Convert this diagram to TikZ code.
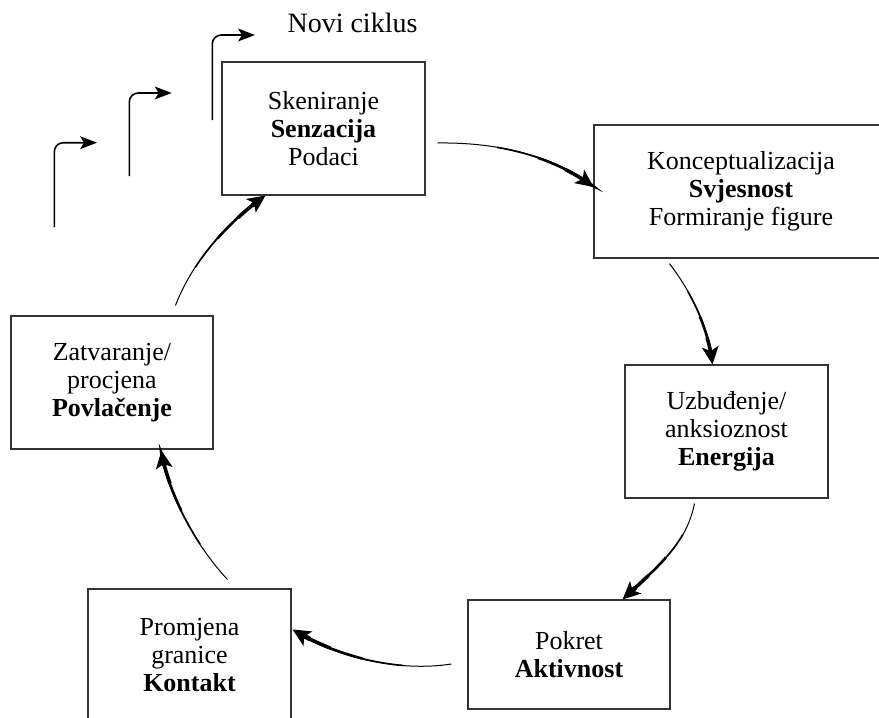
\documentclass[tikz,border=0pt]{standalone}
\usepackage{fontspec}
\setmainfont{Liberation Serif}
\usetikzlibrary{calc}
\tikzset{
  stage/.style={draw=black!80, line width=1.1pt, rectangle, align=center, inner sep=0pt,
    font=\fontsize{26}{28}\selectfont},
  stem/.style={line width=1.6pt, rounded corners=9pt, shorten >=12pt},
}
% filled stealth-like head at #1, pointing away from #2; length #3, half width #4, back inset #5
\newcommand\tiphead[5]{%
  \path let \p1=($#1-#2$), \n1={atan2(\y1,\x1)} in \pgfextra{\xdef\tipang{\n1}};
  \fill[shift={#1}, rotate=\tipang]
    (0pt,0pt) -- (-#3,#4) -- ($(-#3,0pt)+(#5,0pt)$) -- (-#3,-#4) -- cycle;
}
\newcommand\taperarrow[4]{%
  \coordinate (tA) at #1; \coordinate (tB) at #2;
  \coordinate (tC) at #3; \coordinate (tD) at #4;
  \foreach \tv/\wv in {0.3/1.6pt,0.55/2.5pt,0.75/3.5pt,0.88/4.5pt}{%
    \coordinate (q01) at ($(tA)!\tv!(tB)$);
    \coordinate (q12) at ($(tB)!\tv!(tC)$);
    \coordinate (q23) at ($(tC)!\tv!(tD)$);
    \coordinate (q012) at ($(q01)!\tv!(q12)$);
    \coordinate (q123) at ($(q12)!\tv!(q23)$);
    \coordinate (q0123) at ($(q012)!\tv!(q123)$);
    \draw[line width=\wv, shorten >=11pt] (q0123) .. controls (q123) and (q23) .. (tD);
  }%
  \draw[line width=1pt, shorten >=11pt] (tA) .. controls (tB) and (tC) .. (tD);
  \tiphead{(tD)}{(tC)}{18pt}{8.5pt}{4.5pt}
}
\begin{document}
\begin{tikzpicture}[x=1pt,y=-1pt]
\useasboundingbox (0,0) rectangle (879,718);

\node[stage, minimum width=203pt, minimum height=133pt] (sk) at (323.5,128.5)
  {Skeniranje\\\textbf{Senzacija}\\Podaci};
\node[stage, minimum width=294pt, minimum height=133pt] (ko) at (741,191.5)
  {Konceptualizacija\\\textbf{Svjesnost}\\Formiranje figure};
\node[stage, minimum width=203pt, minimum height=133pt] (uz) at (726.5,431.5)
  {Uzbuđenje/\\anksioznost\\\textbf{Energija}};
\node[stage, minimum width=202pt, minimum height=109pt] (po) at (569,654.5)
  {Pokret\\\textbf{Aktivnost}};
\node[stage, minimum width=203pt, minimum height=133pt] (pr) at (189.5,655.5)
  {Promjena\\granice\\\textbf{Kontakt}};
\node[stage, minimum width=202pt, minimum height=133pt] (za) at (112,382.5)
  {Zatvaranje/\\procjena\\\textbf{Povlačenje}};

\node[font=\fontsize{28}{30}\selectfont, anchor=base, inner sep=0pt] (novi) at (352.5,32) {Novi ciklus};

% cycle arrows
\taperarrow{($(sk.east)+(12,14.5)$)}{(510,142)}{(560,162)}{($(ko.west)+(0,-4.5)$)}
\taperarrow{($(ko.south west)+(76,5)$)}{(692,293)}{(708,328)}{($(uz.north west)+(88,0)$)}
\taperarrow{($(uz.south west)+(70,5)$)}{(687,542)}{(660,565)}{($(po.north east)+(-48,0)$)}
\taperarrow{($(po.west)+(-16,9.5)$)}{(400,672)}{(340,658)}{($(pr.north east)+(1,41)$)}
\taperarrow{($(pr.north west)+(140,-9)$)}{(195,545)}{(168,492)}{($(za.south west)+(151,1)$)}
\taperarrow{($(za.north west)+(165,-10)$)}{(192,262)}{(228,222)}{($(sk.south west)+(44,0)$)}

% staircase of new cycles
\coordinate (s1a) at (54.3,227);  \coordinate (s1b) at (97,142.7);
\coordinate (s2a) at (129.3,176); \coordinate (s2b) at (171.7,93);
\coordinate (s3a) at (212.3,120); \coordinate (s3b) at (255,35);
\foreach \s in {s1,s2,s3}{
  \draw[stem] (\s a) |- (\s b);
  \tiphead{(\s b)}{($(\s b)+(-20,0)$)}{17pt}{6.5pt}{4pt}
}
\end{tikzpicture}
\end{document}
